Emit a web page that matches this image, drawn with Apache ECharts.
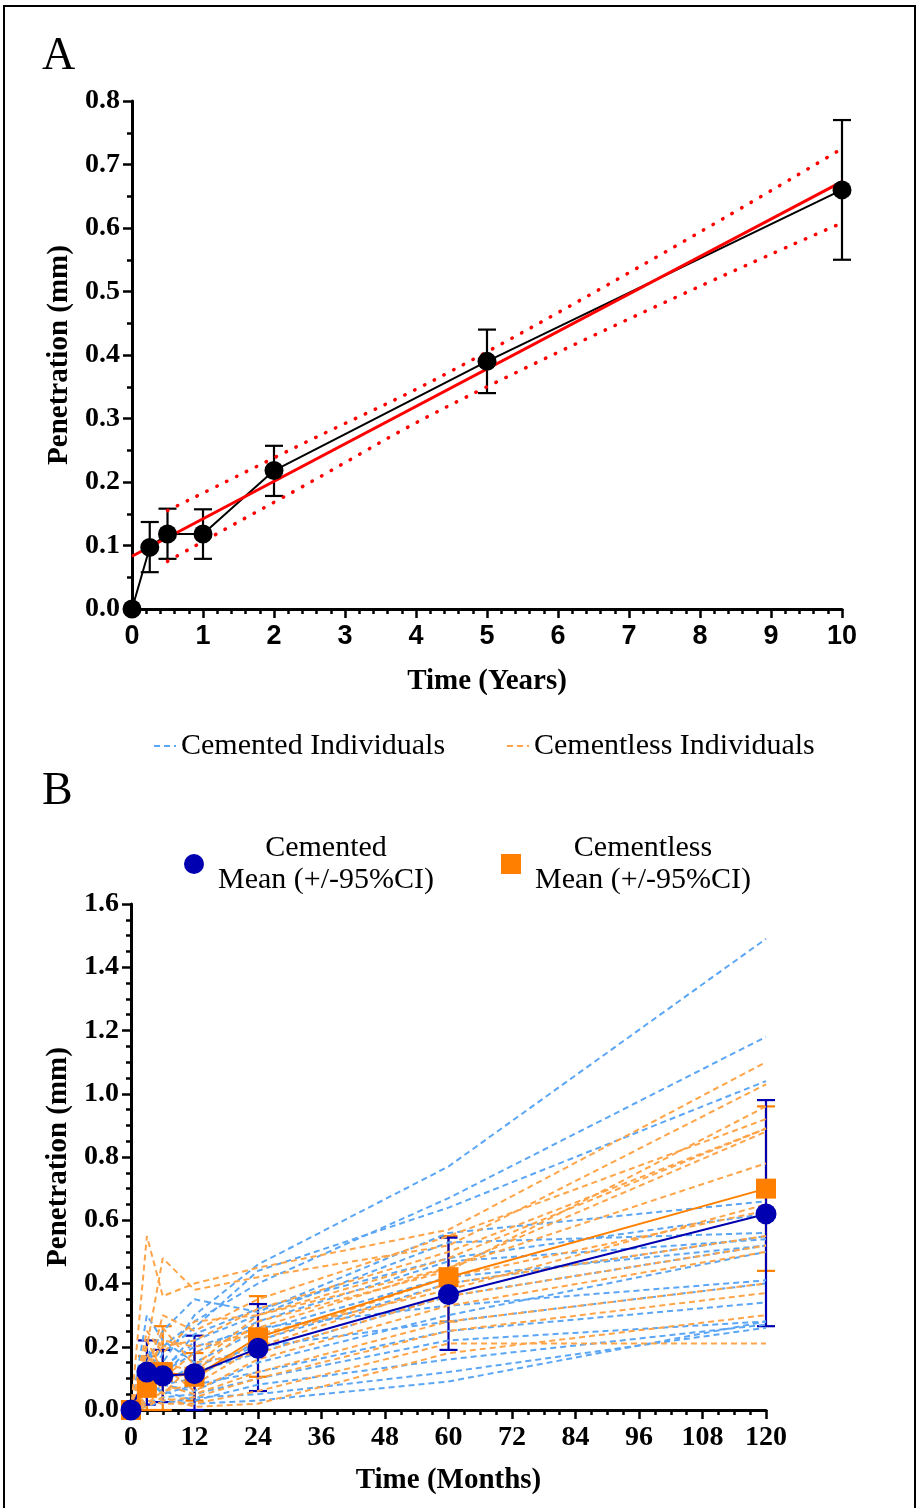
<!DOCTYPE html>
<html lang="en">
<head>
<meta charset="utf-8">
<title>Penetration over time</title>
<style>
  html, body { margin: 0; padding: 0; background: #fff; }
  #chart { width: 917px; height: 1508px; }
</style>
</head>
<body>
<div id="chart"></div>
<script src="https://cdn.jsdelivr.net/npm/echarts@6/dist/echarts.min.js"></script>
<script>
// ---- panel A : pooled mean penetration (years) ----
const yearsA = [0, 0.25, 0.5, 1, 2, 5, 10];
const meanA = [0, 0.097, 0.118, 0.118, 0.218, 0.39, 0.66];
const lowA = [null, 0.058, 0.079, 0.079, 0.178, 0.34, 0.55];
const highA = [null, 0.137, 0.158, 0.157, 0.257, 0.44, 0.77];
const fitX = [0, 10];
const fitY = [0.083, 0.673];
const ciX = [0.5, 2, 5, 10];
const ciUpper = [0.155, 0.238, 0.405, 0.725];
const ciLower = [0.075, 0.168, 0.35, 0.608];

// ---- panel B : individuals and group means (months) ----
const months = [0, 3, 6, 12, 24, 60, 120];
const cementedMean = [0, 0.12, 0.108, 0.115, 0.195, 0.365, 0.62];
const cementedLow = [null, 0.017, 0.025, 0.0, 0.06, 0.19, 0.265];
const cementedHigh = [null, 0.22, 0.19, 0.235, 0.335, 0.545, 0.98];
const cementlessMean = [0, 0.07, 0.12, 0.105, 0.23, 0.42, 0.70];
const cementlessLow = [null, 0.0, 0.0, 0.03, 0.105, 0.28, 0.44];
const cementlessHigh = [null, 0.17, 0.265, 0.18, 0.36, 0.55, 0.96];

const cementedIndividuals = [
  [0, 0.10, 0.15, 0.30, 0.46, 0.77, 1.49],
  [0, 0.12, 0.20, 0.28, 0.40, 0.67, 1.18],
  [0, 0.08, 0.18, 0.26, 0.44, 0.64, 1.04],
  [0, 0.15, 0.25, 0.35, 0.31, 0.56, 0.66],
  [0, 0.20, 0.10, 0.22, 0.30, 0.53, 0.56],
  [0, 0.05, 0.12, 0.18, 0.28, 0.47, 0.54],
  [0, 0.30, 0.22, 0.15, 0.25, 0.42, 0.52],
  [0, 0.12, 0.08, 0.10, 0.22, 0.40, 0.55],
  [0, 0.06, 0.10, 0.12, 0.18, 0.36, 0.52],
  [0, 0.18, 0.14, 0.20, 0.26, 0.33, 0.41],
  [0, 0.04, 0.08, 0.06, 0.15, 0.30, 0.50],
  [0, 0.10, 0.05, 0.08, 0.12, 0.25, 0.34],
  [0, 0.02, 0.04, 0.05, 0.10, 0.22, 0.28],
  [0, 0.08, 0.06, 0.03, 0.08, 0.16, 0.27],
  [0, 0.03, 0.02, 0.04, 0.05, 0.12, 0.26],
  [0, 0.01, 0.03, 0.02, 0.03, 0.09, 0.28],
  [0, 0.14, 0.12, 0.24, 0.32, 0.48, 0.62],
  [0, 0.06, 0.09, 0.14, 0.20, 0.28, 0.40]
];
const cementlessIndividuals = [
  [0, 0.55, 0.36, 0.40, 0.45, 0.57, 1.10],
  [0, 0.20, 0.48, 0.38, 0.42, 0.52, 1.03],
  [0, 0.10, 0.30, 0.25, 0.35, 0.55, 0.92],
  [0, 0.15, 0.20, 0.22, 0.32, 0.50, 0.89],
  [0, 0.05, 0.26, 0.14, 0.30, 0.48, 0.89],
  [0, 0.12, 0.10, 0.18, 0.26, 0.45, 0.78],
  [0, 0.08, 0.15, 0.12, 0.28, 0.44, 0.96],
  [0, 0.22, 0.12, 0.10, 0.22, 0.42, 0.63],
  [0, 0.02, 0.06, 0.08, 0.20, 0.40, 0.55],
  [0, 0.18, 0.05, 0.15, 0.18, 0.36, 0.52],
  [0, 0.04, 0.14, 0.06, 0.16, 0.33, 0.50],
  [0, 0.10, 0.08, 0.05, 0.12, 0.28, 0.40],
  [0, 0.06, 0.03, 0.04, 0.10, 0.25, 0.37],
  [0, 0.03, 0.02, 0.02, 0.06, 0.21, 0.21],
  [0, 0.12, 0.22, 0.20, 0.24, 0.38, 0.65],
  [0, 0.25, 0.18, 0.28, 0.30, 0.45, 0.88],
  [0, 0.01, 0.04, 0.01, 0.02, 0.18, 0.30]
];

const SERIF = 'Liberation Serif';
const SANS = 'Liberation Sans';
const BLUE_IND = '#5ba6f5';
const ORANGE_IND = '#ffa448';
const BLUE_MEAN = '#0000b0';
const ORANGE_MEAN = '#ff8000';

const chart = echarts.init(document.getElementById('chart'));

function pairs(xs, ys) {
  return xs.map((x, i) => [x, ys[i]]);
}
function bars(xs, lo, hi) {
  return xs.map((x, i) => [x, lo[i], hi[i]]).filter(d => d[1] != null);
}

function errorBar(color, capW) {
  return function (params, api) {
    const x = api.value(0);
    const lo = api.coord([x, api.value(1)]);
    const hi = api.coord([x, api.value(2)]);
    const style = { stroke: color, lineWidth: 2.2 };
    return {
      type: 'group',
      children: [
        { type: 'line', shape: { x1: lo[0], y1: lo[1], x2: hi[0], y2: hi[1] }, style },
        { type: 'line', shape: { x1: lo[0] - capW / 2, y1: lo[1], x2: lo[0] + capW / 2, y2: lo[1] }, style },
        { type: 'line', shape: { x1: hi[0] - capW / 2, y1: hi[1], x2: hi[0] + capW / 2, y2: hi[1] }, style }
      ]
    };
  };
}

function valueAxis(opts) {
  return Object.assign({
    type: 'value',
    nameLocation: 'middle',
    nameTextStyle: { fontFamily: SERIF, fontWeight: 'bold', fontSize: 29, color: '#000' },
    axisLine: { show: true, onZero: false, lineStyle: { color: '#000', width: 3 } },
    axisTick: { show: true, length: 9, lineStyle: { color: '#000', width: 2.5 } },
    minorTick: { show: true, length: 5, lineStyle: { color: '#000', width: 2.5 } },
    splitLine: { show: false },
    axisLabel: { color: '#000', fontFamily: SERIF, fontWeight: 'bold', fontSize: 28 }
  }, opts);
}

const series = [];

// panel A
series.push({
  name: 'CI upper', type: 'line', xAxisIndex: 0, yAxisIndex: 0,
  data: pairs(ciX, ciUpper), symbol: 'none', smooth: true,
  lineStyle: { color: '#ff0000', width: 3.5, type: [0.5, 10.5], cap: 'round' }
});
series.push({
  name: 'CI lower', type: 'line', xAxisIndex: 0, yAxisIndex: 0,
  data: pairs(ciX, ciLower), symbol: 'none', smooth: true,
  lineStyle: { color: '#ff0000', width: 3.5, type: [0.5, 10.5], cap: 'round' }
});
series.push({
  name: 'Mean A error', type: 'custom', xAxisIndex: 0, yAxisIndex: 0,
  renderItem: errorBar('#000', 18), data: bars(yearsA, lowA, highA),
  encode: { x: 0, y: [1, 2] }
});
series.push({
  name: 'Mean A', type: 'line', xAxisIndex: 0, yAxisIndex: 0, clip: false,
  data: pairs(yearsA, meanA), symbol: 'circle', symbolSize: 19,
  itemStyle: { color: '#000' }, lineStyle: { color: '#000', width: 2 }
});
series.push({
  name: 'Linear fit', type: 'line', xAxisIndex: 0, yAxisIndex: 0,
  data: pairs(fitX, fitY), symbol: 'none',
  lineStyle: { color: '#ff0000', width: 3 }
});

// panel B individuals
cementedIndividuals.forEach(vals => {
  series.push({
    name: 'Cemented Individuals', type: 'line', xAxisIndex: 1, yAxisIndex: 1,
    data: pairs(months, vals), symbol: 'none',
    itemStyle: { color: BLUE_IND },
    lineStyle: { color: BLUE_IND, width: 2, type: [6, 4] }
  });
});
cementlessIndividuals.forEach(vals => {
  series.push({
    name: 'Cementless Individuals', type: 'line', xAxisIndex: 1, yAxisIndex: 1,
    data: pairs(months, vals), symbol: 'none',
    itemStyle: { color: ORANGE_IND },
    lineStyle: { color: ORANGE_IND, width: 2, type: [6, 4] }
  });
});

// panel B means
series.push({
  name: 'Cementless error', type: 'custom', xAxisIndex: 1, yAxisIndex: 1,
  renderItem: errorBar(ORANGE_MEAN, 18), data: bars(months, cementlessLow, cementlessHigh),
  encode: { x: 0, y: [1, 2] }
});
series.push({
  name: 'Cementless Mean (+/-95%CI)', type: 'line', xAxisIndex: 1, yAxisIndex: 1, clip: false,
  data: pairs(months, cementlessMean), symbol: 'rect', symbolSize: 20,
  itemStyle: { color: ORANGE_MEAN }, lineStyle: { color: ORANGE_MEAN, width: 2 }
});
series.push({
  name: 'Cemented error', type: 'custom', xAxisIndex: 1, yAxisIndex: 1,
  renderItem: errorBar(BLUE_MEAN, 18), data: bars(months, cementedLow, cementedHigh),
  encode: { x: 0, y: [1, 2] }
});
series.push({
  name: 'Cemented Mean (+/-95%CI)', type: 'line', xAxisIndex: 1, yAxisIndex: 1, clip: false,
  data: pairs(months, cementedMean), symbol: 'circle', symbolSize: 21,
  itemStyle: { color: BLUE_MEAN }, lineStyle: { color: BLUE_MEAN, width: 2 }
});

const legendText = { fontFamily: SERIF, fontSize: 30, color: '#000' };
const meanRich = {
  t: { fontFamily: SERIF, fontSize: 30, lineHeight: 32, color: '#000', align: 'center', padding: [0, 0, 0, 9] }
};
function meanLabel(name) {
  return '{t|' + name.replace(' Mean', '}\n{t|Mean') + '}';
}
const hideDot = { opacity: 0, borderWidth: 0 };

const option = {
  backgroundColor: '#fff',
  animation: false,
  title: [
    { text: 'A', left: 37, top: 29, textStyle: { fontFamily: SERIF, fontWeight: 'normal', fontSize: 46, color: '#000' } },
    { text: 'B', left: 37, top: 764, textStyle: { fontFamily: SERIF, fontWeight: 'normal', fontSize: 46, color: '#000' } }
  ],
  graphic: [{
    type: 'rect', silent: true,
    shape: { x: 4, y: 6, width: 911, height: 1520 },
    style: { fill: 'none', stroke: '#000', lineWidth: 2 }
  }],
  legend: [
    {
      left: 148, top: 726, selectedMode: false, itemWidth: 22, itemHeight: 12, itemGap: 10,
      data: ['Cemented Individuals'], textStyle: legendText, itemStyle: hideDot
    },
    {
      left: 501, top: 726, selectedMode: false, itemWidth: 22, itemHeight: 12,
      data: ['Cementless Individuals'], textStyle: legendText, itemStyle: hideDot
    },
    {
      left: 179, top: 828, selectedMode: false, itemWidth: 20, itemHeight: 20, itemGap: 14,
      data: [{ name: 'Cemented Mean (+/-95%CI)', icon: 'circle' }],
      formatter: meanLabel, textStyle: { rich: meanRich }
    },
    {
      left: 496, top: 828, selectedMode: false, itemWidth: 20, itemHeight: 20, itemGap: 14,
      data: [{ name: 'Cementless Mean (+/-95%CI)', icon: 'rect' }],
      formatter: meanLabel, textStyle: { rich: meanRich }
    }
  ],
  grid: [
    { left: 132, right: 75, top: 101, height: 508, outerBoundsMode: 'none' },
    { left: 131, right: 151, top: 904, height: 506, outerBoundsMode: 'none' }
  ],
  xAxis: [
    valueAxis({
      gridIndex: 0, min: 0, max: 10, interval: 1, name: 'Time (Years)', nameGap: 58,
      minorTick: { show: true, splitNumber: 5, length: 5, lineStyle: { color: '#000', width: 2.5 } },
      axisLabel: { color: '#000', fontFamily: SANS, fontWeight: 'bold', fontSize: 27, margin: 14 }
    }),
    valueAxis({
      gridIndex: 1, min: 0, max: 120, interval: 12, name: 'Time (Months)', nameGap: 56,
      minorTick: { show: true, splitNumber: 4, length: 5, lineStyle: { color: '#000', width: 2.5 } },
      axisLabel: { color: '#000', fontFamily: SERIF, fontWeight: 'bold', fontSize: 28, margin: 14 }
    })
  ],
  yAxis: [
    valueAxis({
      gridIndex: 0, min: 0, max: 0.8, interval: 0.1, name: 'Penetration (mm)', nameGap: 58,
      minorTick: { show: true, splitNumber: 2, length: 5, lineStyle: { color: '#000', width: 2.5 } },
      axisLabel: { color: '#000', fontFamily: SERIF, fontWeight: 'bold', fontSize: 28, margin: 12,
        formatter: v => v.toFixed(1) }
    }),
    valueAxis({
      gridIndex: 1, min: 0, max: 1.6, interval: 0.2, name: 'Penetration (mm)', nameGap: 57,
      minorTick: { show: true, splitNumber: 4, length: 5, lineStyle: { color: '#000', width: 2.5 } },
      axisLabel: { color: '#000', fontFamily: SERIF, fontWeight: 'bold', fontSize: 28, margin: 12,
        formatter: v => v.toFixed(1) }
    })
  ],
  series: series
};

chart.setOption(option);
window.addEventListener('resize', chart.resize);
</script>
</body>
</html>
